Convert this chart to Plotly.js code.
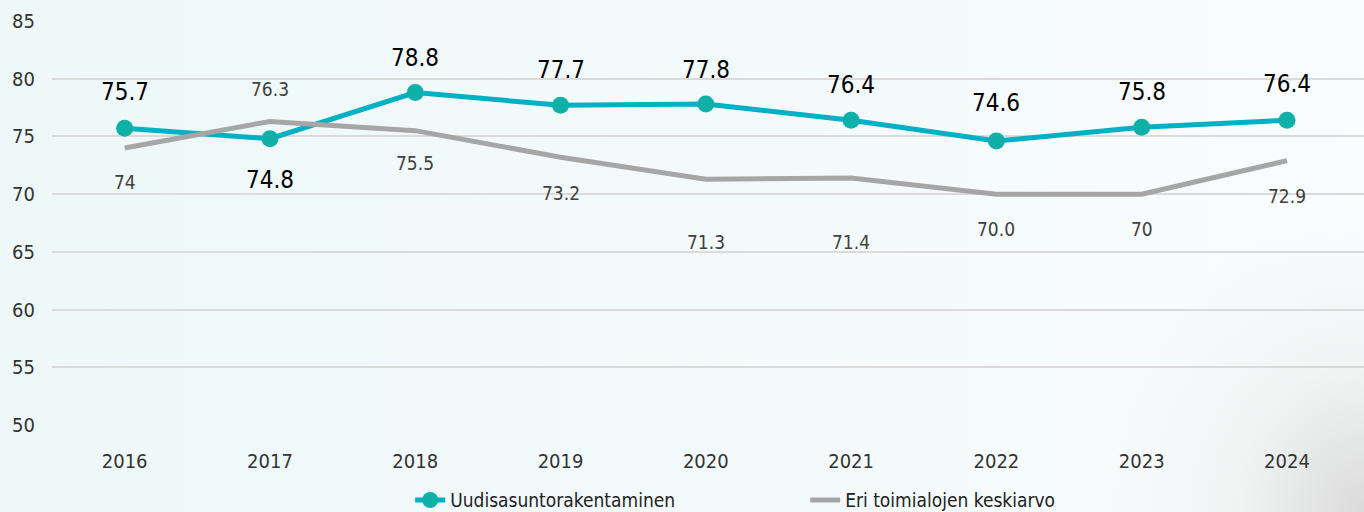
<!DOCTYPE html>
<html>
<head>
<meta charset="utf-8">
<script src="https://cdn.plot.ly/plotly-3.0.1.min.js"></script>
<style>
html,body{margin:0;padding:0;}
body{width:1364px;height:512px;overflow:hidden;
background:
 radial-gradient(ellipse 260px 300px at 1364px 512px, rgba(215,215,215,0.9), rgba(235,235,235,0.5) 50%, rgba(255,255,255,0) 100%),
 linear-gradient(90deg,#EEF8F9 0%,#F3FAFB 55%,#FAFCFD 100%);}
#chart{width:1364px;height:512px;}
</style>
</head>
<body>
<div id="chart"></div>
<script>
const years = ['2016','2017','2018','2019','2020','2021','2022','2023','2024'];
const uudis = [75.7, 74.8, 78.8, 77.7, 77.8, 76.4, 74.6, 75.8, 76.4];
const keskiarvo = [74, 76.3, 75.5, 73.2, 71.3, 71.4, 70.0, 70, 72.9];
const uudisLabels = ['75.7','74.8','78.8','77.7','77.8','76.4','74.6','75.8','76.4'];
const keskiLabels = ['74','76.3','75.5','73.2','71.3','71.4','70.0','70','72.9'];
const seriesNames = ['Uudisasuntorakentaminen','Eri toimialojen keskiarvo'];

const FONT = 'Liberation Sans Narrow, DejaVu Sans Condensed, Arial Narrow, sans-serif';

// label offsets (layout only)
const uShift = [36, -41, 35, 35, 34, 35, 38, 35, 36];
const kShift = [-34, 32, -32, -36, -63, -64, -35, -35, -35];

const annotations = [];
years.forEach((y, i) => {
  annotations.push({xref: 'x', yref: 'y', x: i, y: uudis[i], text: uudisLabels[i], showarrow: false,
    yshift: uShift[i], font: {family: FONT, size: 24, color: '#000000', stretch: 'condensed'}});
  annotations.push({xref: 'x', yref: 'y', x: i, y: keskiarvo[i], text: keskiLabels[i], showarrow: false,
    yshift: kShift[i], font: {family: FONT, size: 19, color: '#404040', stretch: 'condensed'}});
});

const traces = [
  {x: years, y: uudis, name: seriesNames[0], type: 'scatter', mode: 'lines+markers',
   line: {color: '#00B0C4', width: 5}, marker: {color: '#0FB0A8', size: 17}},
  {x: years, y: keskiarvo, name: seriesNames[1], type: 'scatter', mode: 'lines',
   line: {color: '#A6A6A6', width: 5}}
];

const layout = {
  width: 1364, height: 512,
  margin: {l: 52, r: 0, t: 21, b: 87, autoexpand: false},
  paper_bgcolor: 'rgba(0,0,0,0)', plot_bgcolor: 'rgba(0,0,0,0)',
  font: {family: FONT, color: '#333333', size: 19, stretch: 'condensed'},
  xaxis: {type: 'category', range: [-0.5, 8.53], showgrid: false, zeroline: false,
    showline: false, ticks: '', ticklabelstandoff: 22,
    tickfont: {family: FONT, size: 20, color: '#333333', stretch: 'condensed'}},
  yaxis: {range: [50, 85], dtick: 5, tick0: 50, showgrid: true, gridcolor: '#DADADA',
    gridwidth: 2, zeroline: false, showline: false, ticks: '', ticklabelstandoff: 16,
    tickfont: {family: FONT, size: 20, color: '#333333', stretch: 'condensed'}},
  showlegend: true,
  legend: {orientation: 'h', x: 0.273, xanchor: 'left', y: -0.186, yanchor: 'middle',
    entrywidth: 350, font: {family: FONT, size: 19, color: '#222222', stretch: 'condensed'},
    bgcolor: 'rgba(0,0,0,0)'},
  annotations: annotations
};

Plotly.newPlot('chart', traces, layout, {displayModeBar: false, staticPlot: true});
</script>
</body>
</html>
